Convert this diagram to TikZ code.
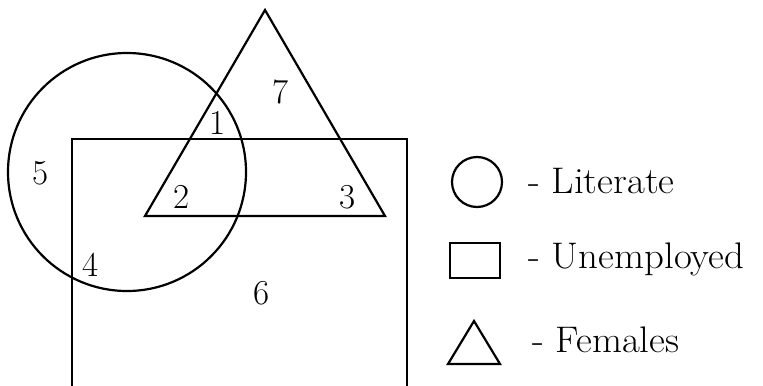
\documentclass[tikz,border=0pt]{standalone}
\begin{document}
\begin{tikzpicture}[x=0.5pt,y=-0.5pt,
  outl/.style={line width=1.1pt,black},
  num/.style={font=\fontsize{17.5}{20}\selectfont,inner sep=0pt},
  legtext/.style={font=\fontsize{18.5}{22}\selectfont,inner sep=0pt,anchor=base west,xscale=1.05}]
\useasboundingbox (0,0) rectangle (763,385);
% main shapes
\coordinate (TA) at (265,10);
\coordinate (TL) at (145,216);
\coordinate (TR) at (385,216);
\draw[outl] (TA) -- (TL) -- (TR) -- cycle;
\coordinate (C) at (127,172);
\draw[outl] (C) circle[radius=59.5pt];
\coordinate (R1) at (72,390);
\coordinate (R2) at (72,139);
\coordinate (R3) at (407,139);
\coordinate (R4) at (407,390);
\draw[outl] (R1) -- (R2) -- (R3) -- (R4);
% region labels
\node[num] (n7) at (281,92) {7};
\node[num] (n1) at (218,123) {1};
\node[num] (n5) at (41,173) {5};
\node[num] (n2) at (182,197) {2};
\node[num] (n3) at (348,197) {3};
\node[num] (n4) at (91,265) {4};
\node[num] (n6) at (262,293) {6};
% legend
\coordinate (LC) at (477,182);
\draw[outl] (LC) circle[radius=12.5pt];
\node[legtext] (l1) at (528,193) {- Literate};
\coordinate (LR1) at (450,243);
\coordinate (LR2) at (500,278);
\draw[outl] (LR1) rectangle (LR2);
\node[legtext] (l2) at (528,268) {- Unemployed};
\coordinate (LTA) at (474,321);
\coordinate (LTL) at (448,364);
\coordinate (LTR) at (500,364);
\draw[outl] (LTA) -- (LTL) -- (LTR) -- cycle;
\node[legtext] (l3) at (532,352) {- Females};
\end{tikzpicture}
\end{document}
